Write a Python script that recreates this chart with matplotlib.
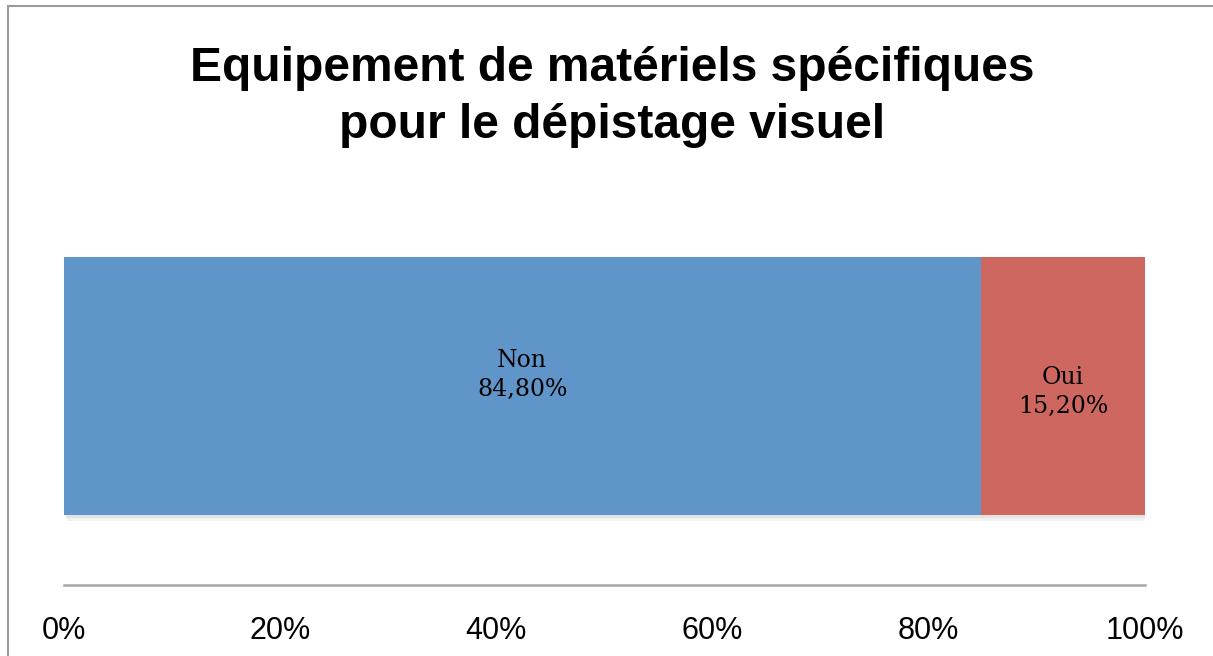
import matplotlib
matplotlib.use("Agg")
import matplotlib.pyplot as plt
from matplotlib.patches import Rectangle
from matplotlib import patheffects as pe

title = "Equipement de matériels spécifiques\npour le dépistage visuel"
categories = ["Non", "Oui"]
values = [84.80, 15.20]
colors = ["#6095C9", "#CD675F"]
label_shift = [0.055, -0.03]
ticks = [0, 20, 40, 60, 80, 100]

fig = plt.figure(figsize=(12.13, 6.56), dpi=100)
ax = fig.add_axes([64 / 1213, 1 - 585 / 656, 1081 / 1213, 398 / 656])

# frame of the chart area (only top and left edges visible in the crop)
fig.add_artist(Rectangle((8 / 1213, -0.2), 1.2, 1.2 - 6 / 656,
                         transform=fig.transFigure, fill=False,
                         edgecolor="#9A9A9A", linewidth=1.5, clip_on=False))

left = 0
for cat, v, c, dy in zip(categories, values, colors, label_shift):
    bar = ax.barh(0, v, left=left, height=1.296, color=c, linewidth=0)
    bar[0].set_path_effects([pe.SimplePatchShadow(offset=(1.5, -2.5), shadow_rgbFace="#C8C8C8", alpha=0.45),
                             pe.SimplePatchShadow(offset=(2.5, -4), shadow_rgbFace="#E0E0E0", alpha=0.4),
                             pe.Normal()])
    ax.text(left + v / 2, dy, f"{cat}\n{v:.2f}%".replace(".", ","),
            ha="center", va="center", fontsize=17, family="DejaVu Serif",
            linespacing=1.3, color="black")
    left += v

ax.set_xlim(0, 100)
ax.set_ylim(-1, 1)
ax.set_xticks(ticks)
ax.set_xticklabels([f"{t}%" for t in ticks], fontsize=22, family="Liberation Sans")
ax.tick_params(axis="x", length=0, pad=22)
ax.set_yticks([])
for s in ["top", "left", "right"]:
    ax.spines[s].set_visible(False)
ax.spines["bottom"].set_color("#A6A6A6")
ax.spines["bottom"].set_linewidth(1.8)

fig.text(612 / 1213, 1 - 97 / 656, title, ha="center", va="center",
         fontsize=34.5, fontweight="bold", family="Liberation Sans", linespacing=1.35)

fig.savefig("out.png", dpi=100)
